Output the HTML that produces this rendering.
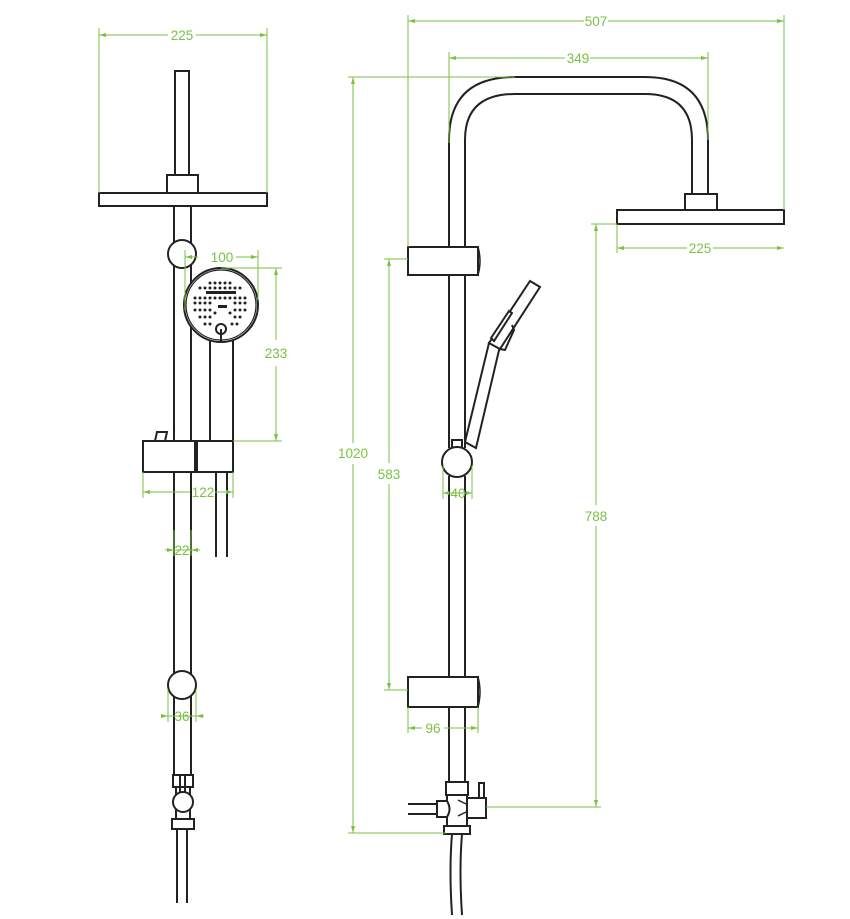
<!DOCTYPE html>
<html><head><meta charset="utf-8"><style>
html,body{margin:0;padding:0;background:#fff;width:850px;height:919px;overflow:hidden}
svg{display:block}
.k{fill:none;stroke:#222;stroke-width:2}
.kw{fill:#fff;stroke:#222;stroke-width:2}
.g{fill:none;stroke:#7ac143;stroke-width:1}
.t{fill:#7ac143;font-family:"Liberation Sans",sans-serif;font-size:13.5px;text-anchor:middle}
.a{fill:#7ac143}
</style></head><body>
<svg width="850" height="919" viewBox="0 0 850 919" xmlns="http://www.w3.org/2000/svg">
<!-- LEFT VIEW -->
<line class="k" x1="174" y1="206" x2="174" y2="775"/><line class="k" x1="191" y1="206" x2="191" y2="775"/>
<rect class="k" x="175" y="71" width="14" height="104"/>
<rect class="kw" x="167" y="175" width="31" height="18"/>
<line class="k" x1="157" y1="193" x2="209" y2="193"/>
<rect class="kw" x="99" y="193" width="168" height="13"/>
<circle class="kw" cx="182" cy="254" r="14"/>
<rect class="kw" x="210" y="338" width="23" height="104"/>
<circle class="kw" cx="221" cy="305" r="37"/>
<circle class="k" cx="221" cy="305" r="35" style="stroke-width:1.2"/>
<g fill="#222">
<rect x="206" y="291" width="30" height="3"/>
<rect x="218" y="305" width="9" height="3"/>
</g>
<circle class="kw" cx="221" cy="329" r="5"/>
<line class="k" x1="221" y1="329" x2="221" y2="342"/>
<polygon class="kw" points="155,441 157,432 167,432 165,441"/>
<rect class="kw" x="143" y="441" width="52" height="31"/>
<rect class="kw" x="197" y="441" width="36" height="31"/>
<line class="k" x1="216" y1="472" x2="216" y2="557"/><line class="k" x1="227" y1="472" x2="227" y2="557"/>
<circle class="kw" cx="182" cy="685" r="14"/>
<rect class="kw" x="173" y="775" width="20" height="12"/>
<line class="k" x1="180" y1="775" x2="180" y2="792"/><line class="k" x1="185" y1="775" x2="185" y2="792"/>
<line class="k" x1="176" y1="787" x2="176" y2="819"/><line class="k" x1="190" y1="787" x2="190" y2="819"/>
<circle class="kw" cx="183" cy="802" r="10"/>
<rect class="kw" x="172" y="819" width="22" height="10"/>
<line class="k" x1="177" y1="829" x2="177" y2="903"/><line class="k" x1="187" y1="829" x2="187" y2="903"/>

<!-- LEFT DIMENSIONS -->
<line class="g" x1="99" y1="28" x2="99" y2="193"/><line class="g" x1="267" y1="28" x2="267" y2="193"/>
<line class="g" x1="99" y1="35" x2="168" y2="35"/><line class="g" x1="196" y1="35" x2="267" y2="35"/>
<text class="t" x="182" y="40">225</text>
<line class="g" x1="185" y1="250" x2="185" y2="310"/><line class="g" x1="258" y1="250" x2="258" y2="300"/>
<line class="g" x1="185" y1="257" x2="198" y2="257"/><line class="g" x1="236" y1="257" x2="258" y2="257"/>
<text class="t" x="222" y="262">100</text>
<line class="g" x1="221" y1="268" x2="282" y2="268"/><line class="g" x1="233" y1="441" x2="282" y2="441"/>
<line class="g" x1="276" y1="268" x2="276" y2="340"/><line class="g" x1="276" y1="366" x2="276" y2="441"/>
<text class="t" x="276" y="358">233</text>
<line class="g" x1="143" y1="472" x2="143" y2="498"/><line class="g" x1="233" y1="472" x2="233" y2="498"/>
<line class="g" x1="143" y1="492" x2="190" y2="492"/><line class="g" x1="215" y1="492" x2="233" y2="492"/>
<text class="t" x="203" y="497">122</text>
<line class="g" x1="174" y1="530" x2="174" y2="556"/><line class="g" x1="191" y1="530" x2="191" y2="556"/>
<line class="g" x1="165" y1="550" x2="200" y2="550"/>
<text class="t" x="182" y="555">22</text>
<line class="g" x1="168" y1="690" x2="168" y2="722"/><line class="g" x1="196" y1="690" x2="196" y2="722"/>
<line class="g" x1="161" y1="716" x2="204" y2="716"/>
<text class="t" x="182" y="721">36</text>

<!-- RIGHT VIEW -->
<path class="k" d="M449,247 V140 Q449,77 515,77 H645 Q708,77 708,140 V193"/>
<path class="k" d="M465,247 V140 Q465,94 515,94 H645 Q692,94 692,140 V193"/>
<line class="k" x1="449" y1="275" x2="449" y2="448"/><line class="k" x1="465" y1="275" x2="465" y2="448"/>
<line class="k" x1="449" y1="476" x2="449" y2="677"/><line class="k" x1="465" y1="476" x2="465" y2="677"/>
<line class="k" x1="449" y1="707" x2="449" y2="782"/><line class="k" x1="465" y1="707" x2="465" y2="782"/>
<rect class="kw" x="685" y="194" width="32" height="16"/>
<line class="k" x1="674" y1="210" x2="727" y2="210"/>
<rect class="kw" x="617" y="210" width="167" height="14"/>
<rect class="kw" x="408" y="247" width="70" height="28"/>
<path class="k" d="M478,247 q4,14 0,28" style="stroke-width:1.5"/>
<rect class="kw" x="408" y="677" width="70" height="30"/>
<path class="k" d="M478,677 q4,15 0,30" style="stroke-width:1.5"/>
<!-- hand shower side -->
<polygon class="kw" points="465,442 489,343 500,346 476,448"/>
<polygon class="kw" points="489,343 530,281 540,287 500,349"/>
<polygon class="kw" points="491,338 509,311 512,313 494,341"/>
<path class="k" d="M500,349 L505,350 L514,330 L512,325"/>
<rect class="kw" x="452" y="440" width="10" height="9"/>
<circle class="kw" cx="457" cy="462" r="15"/>
<!-- diverter -->
<rect class="kw" x="446" y="782" width="22" height="13"/>
<line class="k" x1="447" y1="795" x2="447" y2="826"/><line class="k" x1="467" y1="795" x2="467" y2="826"/>
<path class="k" d="M458,800 L466,804 M458,816 L466,812" style="stroke-width:1.5"/>
<line class="k" x1="408" y1="804" x2="437" y2="804"/><line class="k" x1="408" y1="814" x2="437" y2="814"/>
<path class="kw" d="M437,801 H447 Q452,809 447,817 H437 Z"/>
<rect class="kw" x="479" y="783" width="5" height="15"/>
<rect class="kw" x="467" y="798" width="19" height="20"/>
<rect class="kw" x="444" y="826" width="26" height="8"/>
<path class="k" d="M452,834 Q449,870 452,915"/><path class="k" d="M462,834 Q459,870 462,915"/>

<!-- RIGHT DIMENSIONS -->
<line class="g" x1="408" y1="15" x2="408" y2="247"/><line class="g" x1="784" y1="15" x2="784" y2="210"/>
<line class="g" x1="408" y1="21" x2="584" y2="21"/><line class="g" x1="608" y1="21" x2="784" y2="21"/>
<text class="t" x="596" y="26">507</text>
<line class="g" x1="449" y1="52" x2="449" y2="143"/><line class="g" x1="708" y1="52" x2="708" y2="140"/>
<line class="g" x1="449" y1="58" x2="565" y2="58"/><line class="g" x1="590" y1="58" x2="708" y2="58"/>
<text class="t" x="578" y="63">349</text>
<line class="g" x1="348" y1="77" x2="515" y2="77"/>
<line class="g" x1="353" y1="77" x2="353" y2="443"/><line class="g" x1="353" y1="464" x2="353" y2="833"/>
<text class="t" x="353" y="458">1020</text>
<line class="g" x1="348" y1="833" x2="446" y2="833"/>
<line class="g" x1="384" y1="259" x2="408" y2="259"/>
<line class="g" x1="389" y1="259" x2="389" y2="463"/><line class="g" x1="389" y1="484" x2="389" y2="690"/>
<text class="t" x="389" y="479">583</text>
<line class="g" x1="384" y1="690" x2="408" y2="690"/>
<line class="g" x1="591" y1="224" x2="617" y2="224"/>
<line class="g" x1="596" y1="224" x2="596" y2="505"/><line class="g" x1="596" y1="526" x2="596" y2="807"/>
<text class="t" x="596" y="521">788</text>
<line class="g" x1="486" y1="807" x2="601" y2="807"/>
<line class="g" x1="617" y1="224" x2="617" y2="253"/>
<line class="g" x1="617" y1="248" x2="687" y2="248"/><line class="g" x1="713" y1="248" x2="784" y2="248"/>
<text class="t" x="700" y="253">225</text>
<line class="g" x1="443" y1="466" x2="443" y2="499"/><line class="g" x1="472" y1="466" x2="472" y2="499"/>
<line class="g" x1="443" y1="493" x2="472" y2="493"/>
<text class="t" x="458" y="498">40</text>
<line class="g" x1="408" y1="707" x2="408" y2="733"/><line class="g" x1="478" y1="707" x2="478" y2="733"/>
<line class="g" x1="408" y1="728" x2="422" y2="728"/><line class="g" x1="444" y1="728" x2="478" y2="728"/>
<text class="t" x="433" y="733">96</text>

<!-- arrowheads -->
<g class="a">
<polygon points="99,35 106,33 106,37"/><polygon points="267,35 260,33 260,37"/>
<polygon points="185,257 192,255 192,259"/><polygon points="258,257 251,255 251,259"/>
<polygon points="276,268 274,275 278,275"/><polygon points="276,441 274,434 278,434"/>
<polygon points="143,492 150,490 150,494"/><polygon points="233,492 226,490 226,494"/>
<polygon points="174,550 167,548 167,552"/><polygon points="191,550 198,548 198,552"/>
<polygon points="168,716 161,714 161,718"/><polygon points="196,716 203,714 203,718"/>
<polygon points="408,21 415,19 415,23"/><polygon points="784,21 777,19 777,23"/>
<polygon points="449,58 456,56 456,60"/><polygon points="708,58 701,56 701,60"/>
<polygon points="353,77 351,84 355,84"/><polygon points="353,833 351,826 355,826"/>
<polygon points="389,259 387,266 391,266"/><polygon points="389,690 387,683 391,683"/>
<polygon points="596,224 594,231 598,231"/><polygon points="596,807 594,800 598,800"/>
<polygon points="617,248 624,246 624,250"/><polygon points="784,248 777,246 777,250"/>
<polygon points="443,493 449,491 449,495"/><polygon points="472,493 466,491 466,495"/>
<polygon points="408,728 415,726 415,730"/><polygon points="478,728 471,726 471,730"/>
</g>
<!-- nozzle dots -->
<g fill="#222">
<circle cx="210" cy="283" r="1.5"/><circle cx="215" cy="283" r="1.5"/><circle cx="220" cy="283" r="1.5"/><circle cx="225" cy="283" r="1.5"/><circle cx="230" cy="283" r="1.5"/>
<circle cx="200" cy="288" r="1.5"/><circle cx="205" cy="288" r="1.5"/><circle cx="210" cy="288" r="1.5"/><circle cx="215" cy="288" r="1.5"/><circle cx="220" cy="288" r="1.5"/><circle cx="225" cy="288" r="1.5"/><circle cx="230" cy="288" r="1.5"/><circle cx="235" cy="288" r="1.5"/><circle cx="240" cy="288" r="1.5"/>
<circle cx="195" cy="298" r="1.5"/><circle cx="200" cy="298" r="1.5"/><circle cx="205" cy="298" r="1.5"/><circle cx="210" cy="298" r="1.5"/><circle cx="215" cy="298" r="1.5"/><circle cx="220" cy="298" r="1.5"/><circle cx="225" cy="298" r="1.5"/><circle cx="230" cy="298" r="1.5"/><circle cx="235" cy="298" r="1.5"/><circle cx="240" cy="298" r="1.5"/><circle cx="245" cy="298" r="1.5"/>
<circle cx="195" cy="303" r="1.5"/><circle cx="200" cy="303" r="1.5"/><circle cx="205" cy="303" r="1.5"/><circle cx="210" cy="303" r="1.5"/><circle cx="235" cy="303" r="1.5"/><circle cx="240" cy="303" r="1.5"/><circle cx="245" cy="303" r="1.5"/>
<circle cx="195" cy="310" r="1.5"/><circle cx="200" cy="310" r="1.5"/><circle cx="205" cy="310" r="1.5"/><circle cx="210" cy="310" r="1.5"/><circle cx="215" cy="313" r="1.5"/><circle cx="230" cy="313" r="1.5"/><circle cx="235" cy="310" r="1.5"/><circle cx="240" cy="310" r="1.5"/><circle cx="245" cy="310" r="1.5"/>
<circle cx="200" cy="317" r="1.5"/><circle cx="205" cy="317" r="1.5"/><circle cx="210" cy="317" r="1.5"/><circle cx="235" cy="317" r="1.5"/><circle cx="240" cy="317" r="1.5"/>
<circle cx="205" cy="324" r="1.5"/><circle cx="210" cy="324" r="1.5"/><circle cx="232" cy="324" r="1.5"/><circle cx="237" cy="324" r="1.5"/>
</g>
</svg>
</body></html>
